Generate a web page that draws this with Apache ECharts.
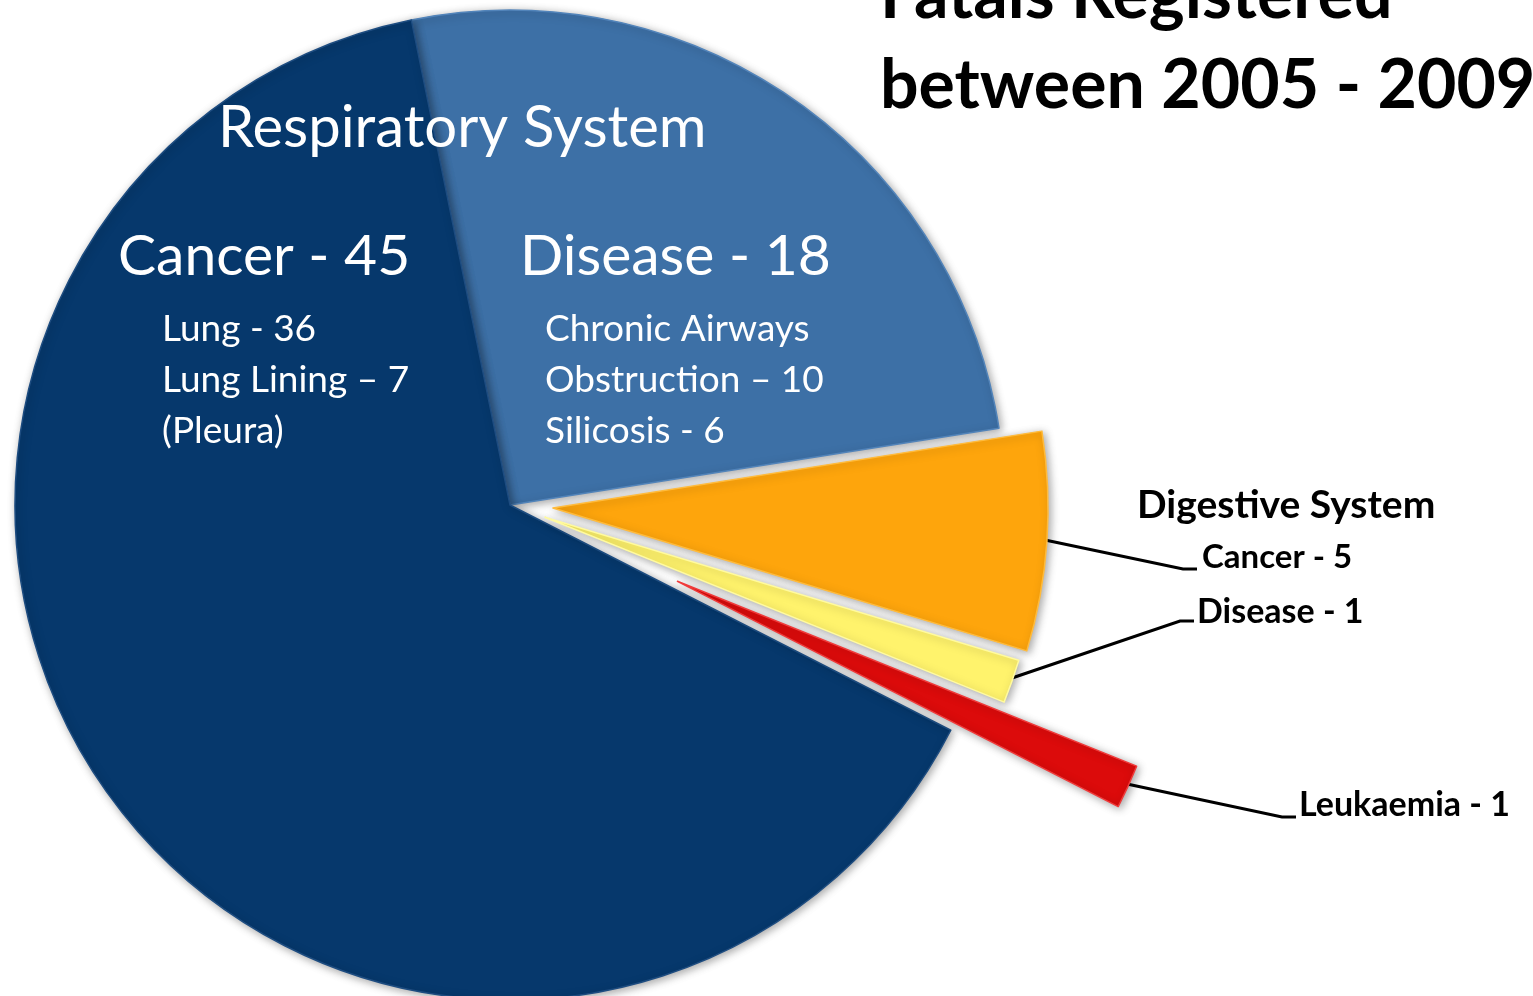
<!DOCTYPE html>
<html>
<head>
<meta charset="utf-8">
<title>Fatals Registered between 2005 - 2009</title>
<script src="https://cdn.jsdelivr.net/npm/echarts@6/dist/echarts.min.js"></script>
<style>
  html, body { margin: 0; padding: 0; background: #fff; }
  #chart { width: 1533px; height: 996px; }
</style>
</head>
<body>
<div id="chart"></div>
<script>
// slices in clockwise order, starting at the top of the pie
const sliceNames = ['Respiratory Disease', 'Digestive Cancer', 'Digestive Disease', 'Leukaemia', 'Respiratory Cancer']
const sliceValues = [18, 5, 1, 1, 45]
const sliceTitles = ['Disease - 18', 'Cancer - 5', 'Disease - 1', 'Leukaemia - 1', 'Cancer - 45']
const sliceDetails = [
  ['Chronic Airways', 'Obstruction – 10', 'Silicosis - 6'],
  [], [], [],
  ['Lung - 36', 'Lung Lining – 7', '(Pleura)']
]
const groupTitle = 'Respiratory System'
const digestiveTitle = 'Digestive System'
const chartTitle = 'Fatals Registered\nbetween 2005 - 2009'

// styling / layout
const FONT = 'Lato, "Open Sans", sans-serif'
const CX = 510, CY = 505, R = 495, START = 101.5
const sliceColors = ['#3d70a6', '#fea50c', '#fff36c', '#dc0b0b', '#06386c']
const sliceEdges = ['#5284ba', '#ffbb3c', '#fffaa0', '#f03a3a', '#1d4c80']
const explodeOffsets = [0, 43, 37, 184, 0]
const innerLabelPos = {
  0: { x: 520, y: 209, indent: 25 },
  4: { x: 118, y: 209, indent: 44 }
}
const outerLabelPos = {
  1: { x: 1137, y: 479, va: 'top', line: [[1045, 540], [1183, 569], [1197, 569]] },
  2: { x: 1197, y: 612, va: 'middle', line: [[1012, 678], [1180, 621], [1194, 621]] },
  3: { x: 1299, y: 805, va: 'middle', line: [[1127, 784], [1282, 817], [1296, 817]] }
}

const chart = echarts.init(document.getElementById('chart'))

const innerRich = {
  big: { fontFamily: FONT, fontSize: 57, color: '#fff', lineHeight: 95 },
  sub: { fontFamily: FONT, fontSize: 37, color: '#fff', lineHeight: 51 }
}
const outerRich = {
  head: { fontFamily: FONT, fontSize: 39, fontWeight: 'bold', color: '#000', lineHeight: 52 },
  item: { fontFamily: FONT, fontSize: 33, fontWeight: 'bold', color: '#000', lineHeight: 52, padding: [0, 0, 0, 65] },
  plain: { fontFamily: FONT, fontSize: 34, fontWeight: 'bold', color: '#000', lineHeight: 40 }
}
const allRich = Object.assign({}, innerRich, outerRich)
Object.keys(innerLabelPos).forEach(function (k) {
  allRich['sub' + k] = Object.assign({}, innerRich.sub, { padding: [0, 0, 0, innerLabelPos[k].indent] })
})

function innerText(i) {
  const lines = ['{big|' + sliceTitles[i] + '}']
  sliceDetails[i].forEach(function (d) { lines.push('{sub' + i + '|' + d + '}') })
  return lines.join('\n')
}

function outerText(i) {
  if (i === 1) return '{head|' + digestiveTitle + '}\n{item|' + sliceTitles[i] + '}'
  return '{plain|' + sliceTitles[i] + '}'
}

// centre of an exploded slice: pushed out along its bisector
const total = sliceValues.reduce(function (a, b) { return a + b }, 0)
function sliceCenter(i) {
  let before = 0
  for (let k = 0; k < i; k++) before += sliceValues[k]
  const mid = (START - (before + sliceValues[i] / 2) / total * 360) * Math.PI / 180
  const d = explodeOffsets[i]
  return [CX + d * Math.cos(mid), CY - d * Math.sin(mid)]
}

// one series draws the two unexploded slices, one more per exploded slice
function makeSeries(showIdx) {
  const exploded = showIdx.length === 1 && explodeOffsets[showIdx[0]] > 0
  return {
    type: 'pie',
    center: exploded ? sliceCenter(showIdx[0]) : [CX, CY],
    radius: R,
    startAngle: START,
    clockwise: true,
    animation: false,
    avoidLabelOverlap: false,
    emphasis: { disabled: true },
    selectedMode: false,
    data: sliceValues.map(function (v, i) {
      const visible = showIdx.indexOf(i) >= 0
      return {
        name: sliceNames[i],
        value: v,
        itemStyle: visible ? {
          color: sliceColors[i],
          borderColor: sliceEdges[i],
          borderWidth: 1.5,
          shadowBlur: 8,
          shadowColor: 'rgba(0,0,0,0.35)',
          shadowOffsetX: 2,
          shadowOffsetY: 2
        } : { color: 'rgba(0,0,0,0)', borderWidth: 0 },
        label: { show: visible },
        labelLine: { show: visible && exploded }
      }
    }),
    label: {
      position: exploded ? 'outside' : 'inside',
      formatter: function (p) {
        const i = p.dataIndex
        if (exploded) return outerLabelPos[i] ? outerText(i) : ''
        return innerLabelPos[i] ? innerText(i) : ''
      },
      rich: allRich,
      textBorderWidth: 0,
      textShadowBlur: 0
    },
    labelLine: {
      lineStyle: { color: '#000', width: 3 }
    },
    labelLayout: function (p) {
      const i = p.dataIndex
      if (!exploded && innerLabelPos[i]) {
        return { x: innerLabelPos[i].x, y: innerLabelPos[i].y, align: 'left', verticalAlign: 'top' }
      }
      const o = outerLabelPos[i]
      if (exploded && o) {
        return { x: o.x, y: o.y, align: 'left', verticalAlign: o.va, labelLinePoints: o.line }
      }
      return {}
    }
  }
}

const series = [makeSeries([0, 4])]
sliceValues.forEach(function (v, i) {
  if (explodeOffsets[i] > 0) series.push(makeSeries([i]))
})

chart.setOption({
  backgroundColor: '#fff',
  animation: false,
  series: series,
  graphic: [
    {
      type: 'text',
      x: 218, y: 128,
      z: 100,
      style: {
        text: groupTitle,
        fill: '#fff',
        font: '58px ' + FONT,
        verticalAlign: 'middle'
      }
    },
    {
      type: 'text',
      x: 880, y: -49,
      z: 100,
      style: {
        text: chartTitle,
        fill: '#000',
        font: 'bold 68px ' + FONT,
        lineHeight: 90,
        verticalAlign: 'top'
      }
    }
  ]
})
</script>
</body>
</html>
